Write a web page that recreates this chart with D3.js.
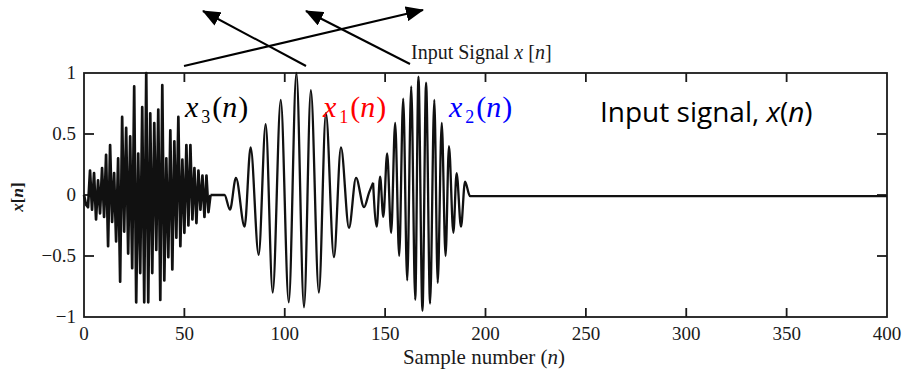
<!DOCTYPE html>
<html>
<head>
<meta charset="utf-8">
<script src="https://cdn.jsdelivr.net/npm/d3@7"></script>
<style>
  body { margin: 0; background: #fff; }
  svg { display: block; }
</style>
</head>
<body>
<svg id="chart" width="902" height="371"></svg>
<script>
// tick values
const xTicks = [0, 50, 100, 150, 200, 250, 300, 350, 400];
const yTicks = [-1, -0.5, 0, 0.5, 1];
const yTickLabels = ["\u22121", "\u22120.5", "0", "0.5", "1"];

// x3(n): fast burst, one value per sample n = 0..63
const x3Samples = [
  0, -0.08, -0.1, 0.2, -0.12, 0.18, -0.2, 0.12, -0.15, 0.22,
  -0.18, 0.33, -0.42, 0.41, -0.22, 0.18, -0.38, 0.3, -0.71, 0.64,
  -0.3, 0.55, -0.48, 0.48, -0.6, 0.89, -0.88, 0.34, -0.64, 0.72,
  -0.88, 1.0, -0.88, 0.67, -0.64, 0.59, -0.45, 0.7, -0.86, 0.9,
  -0.7, 0.3, -0.51, 0.53, -0.61, 0.44, -0.35, 0.64, -0.42, 0.29,
  -0.31, 0.41, -0.25, 0.41, -0.2, 0.22, -0.23, 0.2, -0.12, 0.16,
  -0.18, 0.16, -0.14, 0
];

// x1(n): slow burst, peaks and troughs [n, value]
const x1Extrema = [
  [63, 0], [70, 0], [72.7, -0.12], [75.7, 0.14], [80, -0.26], [83, 0.39],
  [87, -0.49], [90.5, 0.58], [94, -0.8], [98, 0.78], [102, -0.88],
  [105.8, 1.0], [109.6, -0.92], [113, 0.86], [117, -0.8], [120.5, 0.67],
  [124.5, -0.51], [128, 0.39], [132, -0.27], [135.5, 0.14], [139.5, -0.1],
  [142, 0.02], [144, 0.1]
];

// x2(n): medium burst, peaks and troughs [n, value]
const x2Extrema = [
  [144, 0.1], [145.8, -0.26], [147.5, 0.15], [149.1, -0.18], [151, 0.34],
  [153, -0.31], [155, 0.59], [157, -0.5], [159, 0.79], [161, -0.7],
  [163, 0.89], [165, -0.86], [166.6, 0.97], [168.6, -0.95], [170.4, 0.92],
  [172.4, -0.89], [174.5, 0.78], [176.2, -0.72], [178.2, 0.59], [180.1, -0.5],
  [181.8, 0.4], [184, -0.31], [185.6, 0.18], [187.8, -0.26], [189.8, 0.11],
  [192.3, -0.01], [400, -0.01]
];

const svg = d3.select("#chart");
const ink = "#1a1a1a";
const serif = "'Liberation Serif', 'Times New Roman', serif";

const x = d3.scaleLinear().domain([0, 400]).range([84, 887]);
const y = d3.scaleLinear().domain([-1, 1]).range([317, 73]);

svg.append("rect").attr("width", 902).attr("height", 371).attr("fill", "#fff");

// frame with inward ticks on all sides
const frame = svg.append("g").attr("stroke", ink).attr("stroke-width", 1.8).attr("fill", "none");
frame.append("rect")
  .attr("x", x(0)).attr("y", y(1))
  .attr("width", x(400) - x(0)).attr("height", y(-1) - y(1));

frame.selectAll(".xt").data(xTicks.slice(1, -1)).join("g").each(function (d) {
  const g = d3.select(this);
  g.append("line").attr("x1", x(d)).attr("x2", x(d)).attr("y1", y(-1)).attr("y2", y(-1) - 9);
  g.append("line").attr("x1", x(d)).attr("x2", x(d)).attr("y1", y(1)).attr("y2", y(1) + 9);
});
frame.selectAll(".yt").data(yTicks.slice(1, -1)).join("g").each(function (d) {
  const g = d3.select(this);
  g.append("line").attr("x1", x(0)).attr("x2", x(0) + 10).attr("y1", y(d)).attr("y2", y(d));
  g.append("line").attr("x1", x(400)).attr("x2", x(400) - 10).attr("y1", y(d)).attr("y2", y(d));
});

// tick labels
svg.append("g").selectAll("text").data(xTicks).join("text")
  .attr("x", d => x(d)).attr("y", 340)
  .attr("text-anchor", "middle")
  .attr("font-family", serif).attr("font-size", 19).attr("fill", ink)
  .text(d => d);

svg.append("g").selectAll("text").data(yTicks).join("text")
  .attr("x", 76).attr("y", d => y(d) + 6)
  .attr("text-anchor", "end")
  .attr("font-family", serif).attr("font-size", 19).attr("fill", ink)
  .text((d, i) => yTickLabels[i]);

// axis titles
const xTitle = svg.append("text")
  .attr("x", 484).attr("y", 364).attr("text-anchor", "middle")
  .attr("font-family", serif).attr("font-size", 21).attr("fill", ink);
xTitle.append("tspan").text("Sample number (");
xTitle.append("tspan").attr("font-style", "italic").text("n");
xTitle.append("tspan").text(")");

const yTitle = svg.append("text")
  .attr("transform", "translate(23,197) rotate(-90)").attr("text-anchor", "middle")
  .attr("font-family", serif).attr("font-size", 17).attr("font-weight", "bold").attr("fill", ink);
yTitle.append("tspan").attr("font-style", "italic").text("x");
yTitle.append("tspan").text("[");
yTitle.append("tspan").attr("font-style", "italic").text("n");
yTitle.append("tspan").text("]");

const title = svg.append("text")
  .attr("x", 411).attr("y", 59)
  .attr("font-family", serif).attr("font-size", 20).attr("fill", ink);
title.append("tspan").text("Input Signal ");
title.append("tspan").attr("font-style", "italic").text("x");
title.append("tspan").text(" [");
title.append("tspan").attr("font-style", "italic").text("n");
title.append("tspan").text("]");

// the signal
const plot = svg.append("g").attr("fill", "none").attr("stroke", "#111")
  .attr("stroke-width", 2.3).attr("stroke-linejoin", "round");

plot.append("path")
  .datum(x3Samples)
  .attr("stroke-width", 2.7)
  .attr("d", d3.line().x((d, i) => x(i)).y(d => y(d)));

plot.append("path")
  .datum(x1Extrema)
  .attr("d", d3.line().x(d => x(d[0])).y(d => y(d[1])).curve(d3.curveMonotoneX));

plot.append("path")
  .datum(x2Extrema)
  .attr("d", d3.line().x(d => x(d[0])).y(d => y(d[1])).curve(d3.curveMonotoneX));

// arrows above the plot
svg.append("defs").append("marker")
  .attr("id", "head").attr("markerUnits", "userSpaceOnUse")
  .attr("viewBox", "0 0 18 15").attr("markerWidth", 18).attr("markerHeight", 15)
  .attr("refX", 17).attr("refY", 7.5).attr("orient", "auto")
  .append("path").attr("d", "M0,0 L18,7.5 L0,15 Z").attr("fill", "#000");

const arrows = [
  [306, 66, 203, 11],
  [410, 64, 306, 11],
  [184, 66, 423, 10]
];
svg.append("g").selectAll("line").data(arrows).join("line")
  .attr("x1", d => d[0]).attr("y1", d => d[1])
  .attr("x2", d => d[2]).attr("y2", d => d[3])
  .attr("stroke", "#000").attr("stroke-width", 2)
  .attr("marker-end", "url(#head)");

// component labels
function compLabel(px, sub, color) {
  const t = svg.append("text").attr("x", px).attr("y", 117)
    .attr("font-family", "'Liberation Serif', serif").attr("font-size", 30).attr("fill", color);
  t.append("tspan").attr("font-style", "italic").text("x");
  t.append("tspan").attr("font-size", 18).attr("dx", 3).attr("dy", 6).text(sub);
  t.append("tspan").attr("dx", 2).attr("dy", -6).text("(");
  t.append("tspan").attr("font-style", "italic").text("n");
  t.append("tspan").attr("dx", 1).text(")");
}
compLabel(185, "3", "#000");
compLabel(323, "1", "#ff0000");
compLabel(449, "2", "#0000ff");

const note = svg.append("text").attr("x", 600).attr("y", 122)
  .attr("font-family", "'Open Sans', sans-serif").attr("font-size", 28).attr("fill", "#000");
note.append("tspan").text("Input signal, ");
note.append("tspan").attr("font-style", "italic").text("x");
note.append("tspan").text("(");
note.append("tspan").attr("font-style", "italic").text("n");
note.append("tspan").text(")");
</script>
</body>
</html>
